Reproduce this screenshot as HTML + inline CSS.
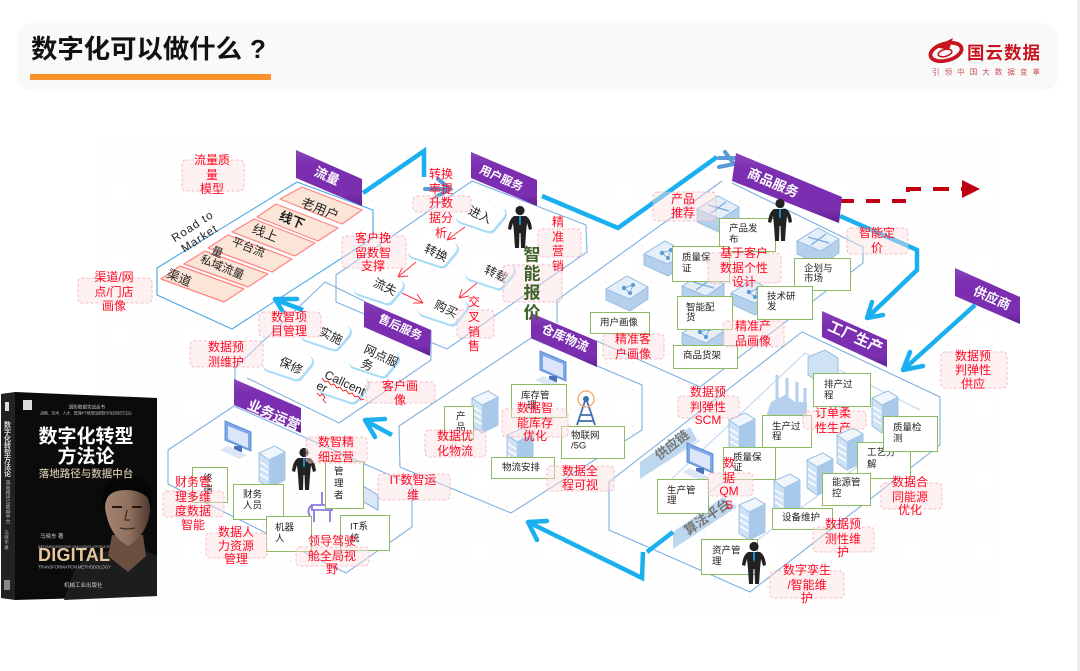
<!DOCTYPE html>
<html lang="zh"><head><meta charset="utf-8"><title>数字化可以做什么？</title>
<style>
html,body{margin:0;padding:0;background:#fff}
svg{display:block;filter:blur(.35px)}
text{font-family:"Liberation Sans","Noto Sans CJK SC",sans-serif;dominant-baseline:central}
.b polygon{fill:url(#pg)}
.bt{fill:#fff;font-weight:700;text-anchor:middle}
.l{fill:none;stroke:#7fb0e0;stroke-width:1.1}
.a{fill:none;stroke:#1ab0ef;stroke-width:4.5;stroke-linejoin:miter}
.ah{fill:none;stroke:#1ab0ef;stroke-width:4.5;stroke-linecap:round;stroke-linejoin:round}
.row{fill:#fbe5d6;stroke:#ff8383;stroke-width:1.2;stroke-linejoin:round}
.rt{fill:#222;text-anchor:middle}
.ra{fill:none;stroke:#ff3344;stroke-width:1}
.g rect{fill:#fff;stroke:#8cbb62;stroke-width:1}
.g text{font-size:9.5px;fill:#222}
.rb rect{fill:#fbdfe3;fill-opacity:.45;stroke:#f4aeb6;stroke-width:.8;stroke-dasharray:3 2}
.r text{fill:#ff0a24;font-size:12px;text-anchor:middle}
</style></head><body>
<svg xmlns="http://www.w3.org/2000/svg" width="1080" height="671" viewBox="0 0 1080 671">
<defs>
<linearGradient id="pg" x1="0" y1="0" x2="0" y2="1"><stop offset="0" stop-color="#8a45bb"/><stop offset=".25" stop-color="#7b2fb0"/><stop offset=".8" stop-color="#7b2fb0"/><stop offset="1" stop-color="#5d2190"/></linearGradient>
<linearGradient id="fc" x1="0" y1="0" x2="1" y2="0"><stop offset="0" stop-color="#a58472"/><stop offset=".55" stop-color="#8f6f5d"/><stop offset="1" stop-color="#4e3a30"/></linearGradient>
<pattern id="dots" width="9" height="9" patternUnits="userSpaceOnUse"><circle cx="3" cy="3" r="1.1" fill="#f6f6f6"/></pattern>
<g id="rack"><polygon points="-13,-12 3,-19 13,-13 13,15 -3,23 -13,16" fill="#cfe2f5" stroke="#8fb8e0" stroke-width=".8"/><polygon points="-13,-12 3,-19 13,-13 -3,-5" fill="#f0f6fc" stroke="#8fb8e0" stroke-width=".8"/><polygon points="-3,-5 13,-13 13,15 -3,23" fill="#a9c9ea"/><path d="M-12,-3 -4,2 M-12,3 -4,8 M-12,9 -4,14" stroke="#fff" stroke-width="1.5"/></g>
<g id="cube"><polygon points="-21,-4 0,-17 21,-6 21,6 3,18 -21,7" fill="#b5d0ec" stroke="#8fb8e0" stroke-width=".8"/><polygon points="-21,-4 0,-17 21,-6 3,6" fill="#e4effa" stroke="#8fb8e0" stroke-width=".8"/><circle cx="-3" cy="-5" r="2.2" fill="#5b9bd5"/><circle cx="6" cy="-8" r="2" fill="#5b9bd5"/><circle cx="3" cy="0" r="2" fill="#5b9bd5"/><path d="M-3,-5 6,-8 3,0Z" fill="none" stroke="#5b9bd5" stroke-width=".7"/></g>
<g id="cubex"><polygon points="-21,-4 0,-17 21,-6 21,8 3,20 -21,9" fill="#b5d0ec" stroke="#8fb8e0" stroke-width=".8"/><polygon points="-21,-4 0,-17 21,-6 3,6" fill="#e4effa" stroke="#8fb8e0" stroke-width=".8"/><path d="M-10,-8 11,-2 M8,-11 -7,0" stroke="#7aaade" stroke-width="1.3"/></g>
<g id="mon"><polygon points="-13,-19 13,-8 13,11 -13,0" fill="#7ea7e8" stroke="#5b8fd5" stroke-width="1"/><polygon points="-10,-14 10,-6 10,8 -10,-1" fill="#dbe6fb"/><rect x="-4" y="6" width="8" height="6" fill="#4a72b8"/><polygon points="-18,10 -10,6 9,15 1,19" fill="#dbe6f7"/></g>
<g id="man"><circle cx="0" cy="-14.500" r="4.600" fill="#222"/><path d="M-6,-9 L6,-9 Q11,-6 12,4 L9,5 L7,-2 L6,8 L5,23 L1,23 L.5,8 L-.5,8 L-1,23 L-5,23 L-6,8 L-7,-2 L-9,5 L-12,4 Q-11,-6 -6,-9Z" fill="#222"/><polygon points="-1,-9 1,-9 1,-1 0,1 -1,-1" fill="#1e88c9"/></g>
<g id="node"><polygon points="-18,1 -2,-10 19,-2 9,10" fill="#a9dcf8" stroke="#a9dcf8" stroke-width="14" stroke-linejoin="round" transform="translate(1,1.500)"/><polygon points="-18,1 -2,-10 19,-2 9,10" fill="#fff" stroke="#fff" stroke-width="12" stroke-linejoin="round"/></g>
</defs>
<rect width="1080" height="671" fill="#fff"/>
<rect x="100" y="130" width="900" height="490" fill="url(#dots)"/>
<rect x="1077" y="0" width="3" height="671" fill="#ececec"/>
<rect x="17" y="23" width="1041" height="68" rx="15" fill="#f9f9f9"/>
<text x="31" y="49" font-size="26" font-weight="700" fill="#111" textLength="211" lengthAdjust="spacingAndGlyphs">数字化可以做什么</text>
<text x="250" y="49" font-size="26" font-weight="700" fill="#111">?</text>
<rect x="30" y="74" width="241" height="6" fill="#f9922b"/>
<g>
<ellipse cx="946" cy="52" rx="16" ry="8.500" fill="none" stroke="#c8141e" stroke-width="3.800" transform="rotate(-15 946 52)"/>
<ellipse cx="945" cy="53" rx="7" ry="3.500" fill="none" stroke="#c8141e" stroke-width="1.500" transform="rotate(-15 945 53)"/>
<path d="M935,47 L953,38 L949,50Z" fill="#c8141e"/>
<text x="967" y="53" font-size="17.500" font-weight="700" fill="#c8141e" textLength="73">国云数据</text>
<text x="932" y="72" font-size="7.500" fill="#c9505a" textLength="108">引 领 中 国 大 数 据 变 革</text>
</g>

<!-- book -->
<polygon points="1,394 15,392 15,600 1,598" fill="#222"/>
<polygon points="15,392 157,398 157,596 15,600" fill="#0b0b0b"/>
<polygon points="64,600 157,596 157,556 140,548 116,550 95,553 76,566" fill="#1d1d1d"/>
<path d="M112,535 L143,535 L146,556 L128,572 L108,556Z" fill="#6a4f41"/>
<path d="M105,508 Q105,488 127,486 Q150,488 150,510 Q148,534 128,546 Q109,536 105,508Z" fill="url(#fc)"/>
<path d="M103,510 Q98,476 128,475 Q156,476 151,510 L148,498 Q140,490 126,490 Q112,490 107,498Z" fill="#060606"/>
<path d="M112,507 H122 M132,507 H142" stroke="#241a15" stroke-width="2"/>
<path d="M127,510 L125,520 H130 M120,528 Q127,530 135,528" fill="none" stroke="#3c2b23" stroke-width="1.200"/>
<text x="7" y="449" font-size="7" font-weight="700" fill="#ddd" text-anchor="middle" style="writing-mode:vertical-rl">数字化转型方法论</text>
<text x="7" y="502" font-size="4.800" fill="#bba" text-anchor="middle" style="writing-mode:vertical-rl">落地路径与数据中台</text>
<text x="7" y="540" font-size="4.500" fill="#bbb" text-anchor="middle" style="writing-mode:vertical-rl">马晓东 著</text>
<rect x="23" y="400" width="9" height="10" fill="#ddd"/><rect x="5" y="402" width="4" height="9" fill="#ddd"/><rect x="4" y="580" width="6" height="10" fill="#888"/>
<text x="87" y="407" font-size="4.500" fill="#ccc" text-anchor="middle">圆形数据实战丛书</text>
<text x="86" y="413" font-size="4.200" fill="#aaa" text-anchor="middle" textLength="92">战略、技术、人才、管理4个维度深度数字化转型方法论</text>
<text x="86" y="437" font-size="19" font-weight="700" fill="#fff" text-anchor="middle">数字化转型</text>
<text x="86" y="457" font-size="19" font-weight="700" fill="#fff" text-anchor="middle">方法论</text>
<text x="86" y="474" font-size="10.500" font-weight="500" fill="#cfc0a8" text-anchor="middle">落地路径与数据中台</text>
<text x="40" y="537" font-size="5.500" fill="#ccc">马晓东 著</text>
<text x="38" y="555" font-size="18" font-weight="700" fill="#e6c69a" textLength="72">DIGITAL</text>
<text x="38" y="547" font-size="3.500" fill="#aaa" textLength="72">IMPLEMENTATION PATH AND DATA PLATFORM OF</text>
<text x="38" y="567" font-size="4.500" fill="#bbb" textLength="73">TRANSFORMATION METHODOLOGY</text>
<text x="64" y="586" font-size="5.500" fill="#ccc">机械工业出版社</text>

<!-- outlines -->
<polygon class="l" style="stroke:#4aa8e8" points="157,268 297,182 373,210 373,238 232,329 157,295"/>
<polygon class="l" points="336,275 472,181 586,225 587,252 447,349 336,302"/>
<path class="l" d="M235,382 V368 L325,282 L364,301 M431,330 V360 L339,423 L247,378"/>
<polygon class="l" points="168,450 234,406 412,485 412,527 346,573 168,484"/>
<polygon class="l" points="399,426 531,338 642,385 642,430 511,513 400,467"/>
<path class="l" d="M557,323 V300 L722,181 M732,183 L863,247 V263 L700,387 L597,341"/>
<polygon class="l" points="609,482 802,332 940,397 940,445 750,592 609,530"/>
<path class="l" stroke-opacity=".5" d="M660,490 L805,353 L920,410"/>
<path class="l" stroke-opacity=".5" d="M640,478 L700,440 M700,500 L800,420 M730,560 L880,450"/>

<polygon points="640,462 690,427 697,440 640,479" fill="#bdd7ee"/>
<text x="672" y="445" font-size="13" font-weight="700" fill="#777" text-anchor="middle" transform="rotate(-38 672 445)">供应链</text>
<polygon points="673,532 723,497 737,507 673,549" fill="#bdd7ee"/>
<text x="707" y="517" font-size="13" font-weight="700" fill="#777" text-anchor="middle" transform="rotate(-35 707 517)">算法平台</text>

<!-- rows -->
<polygon class="row" points="280,199 302,187 362,210 342,224"/>
<polygon class="row" points="257,217 276,204 338,228 318,241"/>
<polygon class="row" points="232,232 254,219 315,243 295,256"/>
<polygon class="row" points="208,248 228,235 292,259 272,272"/>
<polygon class="row" points="184,264 205,251 268,274 248,287"/>
<polygon class="row" points="161,279 180,266 244,289 224,302"/>
<text class="rt" x="320" y="209" font-size="13" transform="rotate(22 320 209)">老用户</text>
<text class="rt" x="292" y="220" font-size="13" font-weight="700" transform="rotate(22 292 220)">线下</text>
<text class="rt" x="265" y="233" font-size="13" transform="rotate(22 265 233)">线上</text>
<text class="rt" x="248" y="248" font-size="11.500" transform="rotate(22 248 248)">平台流</text>
<text class="rt" x="217" y="253" font-size="11.500" transform="rotate(22 217 253)">量</text>
<text class="rt" x="222" y="268" font-size="11.500" transform="rotate(22 222 268)">私域流量</text>
<text class="rt" x="179" y="278" font-size="12.500" transform="rotate(22 179 278)">渠道</text>
<text class="rt" x="193" y="227" font-size="11.500" letter-spacing="1" transform="rotate(-33 193 227)">Road to</text>
<text class="rt" x="200" y="239" font-size="11.500" letter-spacing="1" transform="rotate(-33 200 239)">Market</text>

<!-- nodes -->
<use href="#node" x="480" y="215"/><use href="#node" x="432" y="250"/><use href="#node" x="378" y="287"/><use href="#node" x="442" y="308"/><use href="#node" x="489" y="272"/>
<use href="#node" x="325" y="333"/><use href="#node" x="287" y="363"/><use href="#node" x="373" y="360"/><use href="#node" x="343" y="386"/>
<g font-size="12">
<text class="rt" x="480" y="215" transform="rotate(25 480 215)">进入</text>
<text class="rt" x="436" y="253" transform="rotate(25 436 253)">转换</text>
<text class="rt" x="385" y="287" transform="rotate(25 385 287)">流失</text>
<text class="rt" x="446" y="309" transform="rotate(25 446 309)">购买</text>
<text class="rt" x="496" y="274" transform="rotate(25 496 274)">转载</text>
<text class="rt" x="331" y="336" transform="rotate(25 331 336)">实施</text>
<text class="rt" x="291" y="366" transform="rotate(25 291 366)">保修</text>
<text class="rt" x="381" y="356" transform="rotate(25 381 356)">网点服</text>
<text class="rt" x="367" y="365" transform="rotate(25 367 365)">务</text>
<text class="rt" x="345" y="383" transform="rotate(25 345 383)">Callcent</text>
<text class="rt" x="322" y="387" transform="rotate(25 322 387)">er</text>
</g>
<path d="M322,378 l3,4 3,-1 3,4 3,-1 3,4 3,-1 3,4 3,-1 3,4 3,-1 3,4 3,-1 3,4 3,-1" fill="none" stroke="#f00" stroke-width=".8"/>
<path d="M317,393 l3,3 2,-2 3,3 -2,3 3,3" fill="none" stroke="#f00" stroke-width=".8"/>
<g class="ra">
<path d="M465,227 L447,240 M447,240 L456,238 M447,240 L451,232"/>
<path d="M416,262 L398,277 M398,277 L408,276 M398,277 L402,268"/>
<path d="M402,293 L423,303 M423,303 L417,294 M423,303 L413,303"/>
<path d="M477,283 L459,298 M459,298 L469,296 M459,298 L462,289"/>
</g>

<!-- icons -->
<use href="#cubex" x="718" y="213"/><use href="#cube" x="665" y="258"/><use href="#cube" x="627" y="293"/><use href="#cubex" x="818" y="245"/><use href="#cubex" x="703" y="290"/><use href="#cube" x="752" y="297"/><use href="#cube" x="703" y="337"/>
<use href="#mon" x="553" y="370"/><use href="#rack" x="485" y="410"/><use href="#rack" x="520" y="447"/>
<g fill="none" stroke="#3e6fb0" stroke-width="1.800"><path d="M586,398 L577,425 M586,398 L595,425 M580,415 H592 M578,421 H594"/></g>
<circle cx="586" cy="399" r="3" fill="#3e6fb0"/><circle cx="586" cy="399" r="8" fill="none" stroke="#f2b27a" stroke-width="1.500"/>
<rect x="771" y="402" width="36" height="18" fill="#b5d0ec"/><polygon points="765,420 771,402 785,395 800,405 810,420" fill="#b5d0ec"/>
<g stroke="#b5d0ec" stroke-width="3"><path d="M777,375 V402 M787,378 V405 M797,382 V408 M805,388 V410"/></g>
<polygon points="808,357 825,350 838,358 838,375 820,383 808,375" fill="#cfe2f5" stroke="#8fb8e0" stroke-width=".8"/>
<use href="#rack" x="742" y="432"/><use href="#rack" x="885" y="410"/><use href="#rack" x="850" y="447"/><use href="#rack" x="820" y="472"/><use href="#rack" x="787" y="493"/><use href="#rack" x="752" y="517"/><use href="#mon" x="700" y="462"/>
<use href="#mon" x="238" y="440"/><use href="#rack" x="272" y="465"/>
<g fill="none" stroke="#8a7ae0" stroke-width="1.800"><path d="M312,505 H332 V510 H312Z M314,510 V522 M330,510 V522 M322,492 V505 M312,505 Q306,510 310,516"/></g>
<polygon points="360,484 378,495 378,510 360,500" fill="#dbe6f7" stroke="#7ea7e8"/>

<!-- arrows -->
<polyline class="a" points="363,193 424,151 424,177"/>
<path d="M425,189 H448 M438,179 L450,189 L436,197" fill="none" stroke="#5b9bd5" stroke-width="4" stroke-linecap="round"/>
<polyline class="a" points="542,196 618,228 717,157"/>
<path d="M719,158 H736 M725,152 L734,164 L719,167" fill="none" stroke="#5b9bd5" stroke-width="4" stroke-linecap="round"/>
<polyline class="a" points="840,216 917,250 917,270 867,318"/>
<path class="ah" d="M872,302 L867,318 L883,315"/>
<line class="a" x1="975" y1="305" x2="903" y2="370"/>
<path class="ah" d="M910,352 L903,370 L923,366"/>
<polyline class="a" points="673,532 647,552"/>
<polyline class="a" points="643,552 642,578 528,522"/>
<path class="ah" d="M547,521 L528,522 L537,540"/>
<line class="a" x1="392" y1="435" x2="366" y2="421"/>
<path class="ah" d="M385,419 L365,420 L375,437"/>
<line class="a" x1="303" y1="310" x2="276" y2="300"/>
<path class="ah" d="M297,299 L275,299 L283,312"/>
<path d="M840,201 H908" fill="none" stroke="#c00010" stroke-width="4" stroke-dasharray="14 12"/>
<path d="M908,192 V189 H962" fill="none" stroke="#c00010" stroke-width="4" stroke-dasharray="16 12"/>
<polygon points="962,180 980,189 962,198" fill="#c00010"/>

<!-- banners -->
<g class="b">
<polygon points="296,150 362,179 362,206 296,178"/>
<polygon points="471,152 537,180 537,206 471,178"/>
<polygon points="364,301 431,330 430,356 364,327"/>
<polygon points="531,313 597,341 597,367 531,338"/>
<polygon points="736,153 842,197 839,223 732,181"/>
<polygon points="822,311 887,340 887,367 822,337"/>
<polygon points="955,268 1020,297 1020,324 955,296"/>
<polygon points="234,379 301,408 301,433 234,405"/>
</g>
<text class="bt" x="327" y="176" font-size="13" transform="rotate(24 327 176)">流量</text>
<text class="bt" x="501" y="179" font-size="11.500" transform="rotate(24 501 179)">用户服务</text>
<text class="bt" x="400" y="328" font-size="11.500" transform="rotate(24 400 328)">售后服务</text>
<text class="bt" x="565" y="338" font-size="12.500" transform="rotate(24 565 338)">仓库物流</text>
<text class="bt" x="773" y="183" font-size="13.500" transform="rotate(23 773 183)">商品服务</text>
<text class="bt" x="855" y="338" font-size="14.500" transform="rotate(24 855 338)">工厂生产</text>
<text class="bt" x="992" y="298" font-size="13" transform="rotate(24 992 298)">供应商</text>
<text class="bt" x="274" y="415" font-size="14" transform="rotate(24 274 415)">业务运营</text>

<!-- green boxes -->
<g class="g">
<rect x="719.500" y="218.500" width="56" height="33"/><text x="729" y="229">产品发</text><text x="729" y="240">布</text>
<rect x="672.500" y="246.500" width="57" height="35"/><text x="682" y="258">质量保</text><text x="682" y="269">证</text>
<rect x="794.500" y="258.500" width="56" height="32"/><text x="804" y="269">企划与</text><text x="804" y="279">市场</text>
<rect x="757.500" y="286.500" width="55" height="33"/><text x="767" y="297">技术研</text><text x="767" y="307">发</text>
<rect x="677.500" y="296.500" width="55" height="33"/><text x="686" y="308">智能配</text><text x="686" y="318">货</text>
<rect x="673.500" y="345.500" width="64" height="23"/><text x="683" y="356">商品货架</text>
<rect x="590.500" y="312.500" width="59" height="21"/><text x="600" y="323">用户画像</text>
<rect x="813.500" y="373.500" width="57" height="33"/><text x="824" y="385">排产过</text><text x="824" y="396">程</text>
<rect x="762.500" y="415.500" width="49" height="32"/><text x="772" y="427">生产过</text><text x="772" y="437">程</text>
<rect x="723.500" y="447.500" width="52" height="32"/><text x="733" y="458">质量保</text><text x="733" y="468">证</text>
<rect x="857.500" y="442.500" width="53" height="36"/><text x="867" y="453">工艺分</text><text x="867" y="465">解</text>
<rect x="883.500" y="416.500" width="54" height="35"/><text x="893" y="428">质量检</text><text x="893" y="439">测</text>
<rect x="822.500" y="473.500" width="48" height="32"/><text x="832" y="483">能源管</text><text x="832" y="494">控</text>
<rect x="657.500" y="479.500" width="51" height="34"/><text x="667" y="491">生产管</text><text x="667" y="501">理</text>
<rect x="772.500" y="508.500" width="60" height="21"/><text x="782" y="518">设备维护</text>
<rect x="701.500" y="539.500" width="56" height="35"/><text x="712" y="551">资产管</text><text x="712" y="562">理</text>
<rect x="511.500" y="384.500" width="55" height="33"/><text x="521" y="396">库存管</text><text x="527" y="406">理</text>
<rect x="444.500" y="406.500" width="29" height="33"/><text x="456" y="417">产</text><text x="456" y="428">品</text>
<rect x="491.500" y="457.500" width="63" height="21"/><text x="502" y="468">物流安排</text>
<rect x="561.500" y="426.500" width="63" height="32"/><text x="571" y="436">物联网</text><text x="571" y="446">/5G</text>
<rect x="192.500" y="467.500" width="35" height="35"/><text x="203" y="479">终</text><text x="203" y="490">端</text>
<rect x="233.500" y="484.500" width="50" height="35"/><text x="243" y="495">财务</text><text x="243" y="506">人员</text>
<rect x="266.500" y="516.500" width="45" height="35"/><text x="275" y="528">机器</text><text x="275" y="539">人</text>
<rect x="325.500" y="461.500" width="38" height="47"/><text x="334" y="472">管</text><text x="334" y="484">理</text><text x="334" y="496">者</text>
<rect x="340.500" y="515.500" width="49" height="35"/><text x="350" y="527">IT系</text><text x="350" y="539">统</text>
</g>

<use href="#man" x="520" y="225"/><use href="#man" x="780" y="218"/><use href="#man" x="304" y="467"/><use href="#man" x="754" y="561"/>

<!-- red labels -->
<g class="rb">
<rect x="182" y="160" width="62" height="31" rx="4"/><rect x="78" y="278" width="74" height="25" rx="4"/><rect x="342" y="236" width="64" height="32" rx="4"/><rect x="259" y="312" width="62" height="25" rx="4"/><rect x="190" y="341" width="73" height="26" rx="4"/><rect x="413" y="196" width="58" height="16" rx="4"/><rect x="538" y="229" width="43" height="28" rx="4"/><rect x="503" y="265" width="59" height="37" rx="4"/><rect x="457" y="310" width="37" height="28" rx="4"/><rect x="366" y="382" width="69" height="21" rx="4"/><rect x="603" y="334" width="61" height="25" rx="4"/><rect x="708" y="253" width="73" height="30" rx="4"/><rect x="653" y="192" width="63" height="29" rx="4"/><rect x="847" y="228" width="61" height="26" rx="4"/><rect x="723" y="321" width="61" height="26" rx="4"/><rect x="941" y="352" width="66" height="36" rx="4"/><rect x="678" y="396" width="61" height="22" rx="4"/><rect x="803" y="411" width="63" height="18" rx="4"/><rect x="708" y="473" width="45" height="23" rx="4"/><rect x="881" y="483" width="61" height="26" rx="4"/><rect x="813" y="527" width="61" height="25" rx="4"/><rect x="770" y="571" width="74" height="27" rx="4"/><rect x="425" y="430" width="61" height="27" rx="4"/><rect x="502" y="409" width="66" height="28" rx="4"/><rect x="547" y="466" width="67" height="25" rx="4"/><rect x="378" y="474" width="72" height="26" rx="4"/><rect x="306" y="437" width="61" height="26" rx="4"/><rect x="163" y="491" width="61" height="26" rx="4"/><rect x="206" y="533" width="61" height="25" rx="4"/><rect x="296" y="547" width="73" height="19" rx="4"/>
</g>
<g class="r">
<text x="212" y="160">流量质</text><text x="212" y="175">量</text><text x="212" y="189">模型</text>
<text x="114" y="277">渠道/网</text><text x="114" y="292">点/门店</text><text x="114" y="306">画像</text>
<text x="373" y="238">客户挽</text><text x="373" y="253">留数智</text><text x="373" y="266">支撑</text>
<text x="289" y="317">数智项</text><text x="289" y="331">目管理</text>
<text x="226" y="347">数据预</text><text x="226" y="362">测维护</text>
<text x="441" y="174">转换</text><text x="441" y="189">率提</text><text x="441" y="203">升数</text><text x="441" y="218">据分</text><text x="441" y="233">析</text>
<text x="558" y="222">精</text><text x="558" y="237">准</text><text x="558" y="251">营</text><text x="558" y="266">销</text>
<text x="474" y="302">交</text><text x="474" y="317">叉</text><text x="474" y="332">销</text><text x="474" y="346">售</text>
<text x="400" y="386">客户画</text><text x="400" y="400">像</text>
<text x="633" y="339">精准客</text><text x="633" y="354">户画像</text>
<text x="744" y="253">基于客户</text><text x="744" y="268">数据个性</text><text x="744" y="282">设计</text>
<text x="683" y="199">产品</text><text x="683" y="213">推荐</text>
<text x="877" y="233">智能定</text><text x="877" y="248">价</text>
<text x="753" y="326">精准产</text><text x="753" y="341">品画像</text>
<text x="973" y="356">数据预</text><text x="973" y="370">判弹性</text><text x="973" y="384">供应</text>
<text x="708" y="392">数据预</text><text x="708" y="407">判弹性</text><text x="708" y="420">SCM</text>
<text x="833" y="413">订单柔</text><text x="833" y="428">性生产</text>
<text x="729" y="463">数</text><text x="729" y="478">据</text><text x="729" y="491">QM</text><text x="729" y="505">S</text>
<text x="910" y="482">数据合</text><text x="910" y="497">同能源</text><text x="910" y="510">优化</text>
<text x="843" y="524">数据预</text><text x="843" y="539">测性维</text><text x="843" y="552">护</text>
<text x="807" y="570">数字孪生</text><text x="807" y="585">/智能维</text><text x="807" y="598">护</text>
<text x="455" y="436">数据优</text><text x="455" y="451">化物流</text>
<text x="535" y="408">数据智</text><text x="535" y="423">能库存</text><text x="535" y="436">优化</text>
<text x="580" y="471">数据全</text><text x="580" y="485">程可视</text>
<text x="413" y="480">IT数智运</text><text x="413" y="495">维</text>
<text x="336" y="442">数智精</text><text x="336" y="457">细运营</text>
<text x="193" y="482">财务管</text><text x="193" y="497">理多维</text><text x="193" y="511">度数据</text><text x="193" y="525">智能</text>
<text x="236" y="532">数据人</text><text x="236" y="546">力资源</text><text x="236" y="559">管理</text>
<text x="332" y="541">领导驾驶</text><text x="332" y="556">舱全局视</text><text x="332" y="569">野</text>
</g>
<g font-size="17" font-weight="700" fill="#3f6228" text-anchor="middle">
<text x="532" y="255">智</text><text x="532" y="274">能</text><text x="532" y="293">报</text><text x="532" y="313">价</text>
</g>
</svg>
</body></html>
